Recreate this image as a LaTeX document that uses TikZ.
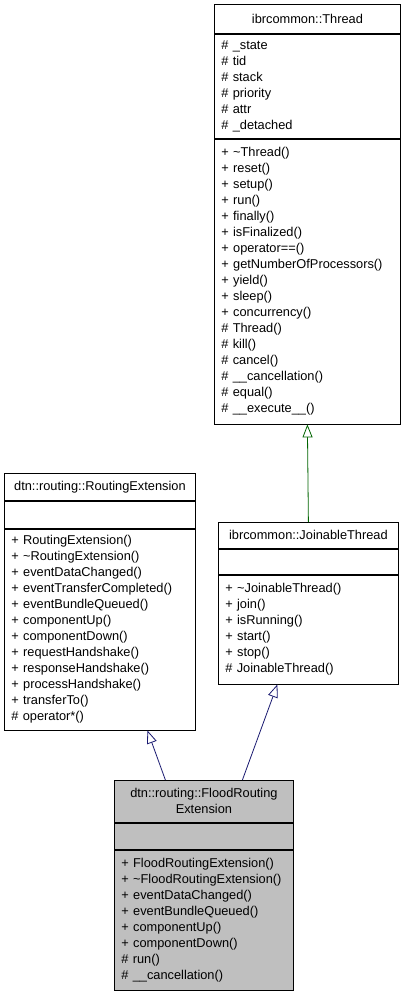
\documentclass[tikz,border=0pt]{standalone}
\usepackage{fontspec}
\setmainfont{Liberation Sans}
\usetikzlibrary{arrows.meta,positioning}
\definecolor{inheritblue}{HTML}{191970}
\definecolor{inheritgreen}{HTML}{006400}
\definecolor{focusgray}{HTML}{BFBFBF}
\newcommand{\umlfont}{\fontsize{12.8}{16}\selectfont}
\newcommand{\tl}{\textasciitilde}

\begin{document}
\begin{tikzpicture}[x=1pt,y=-1pt,
  every node/.style={draw,line width=0.8pt,fill=white,inner xsep=7pt,inner ysep=0pt,font=\umlfont},
  classname/.style={align=center,anchor=north west},
  members/.style={align=left},
  inherit/.style={line width=0.8pt,-{Triangle[open,length=13pt,width=10pt,fill=white]}}]
\useasboundingbox (0,0) rectangle (405,995);
\node[classname,minimum width=186,text width=172,minimum height=29] (threadname) at (214,4) {ibrcommon::Thread};
\node[members,below=0pt of threadname,minimum width=186,text width=172,minimum height=104] (threadattrs) {\# \_state\\\# tid\\\# stack\\\# priority\\\# attr\\\# \_detached};
\node[members,below=0pt of threadattrs,minimum width=186,text width=172,minimum height=285] (threadops) {+ \tl Thread()\\+ reset()\\+ setup()\\+ run()\\+ finally()\\+ isFinalized()\\+ operator==()\\+ getNumberOfProcessors()\\+ yield()\\+ sleep()\\+ concurrency()\\\# Thread()\\\# kill()\\\# cancel()\\\# \_\_cancellation()\\\# equal()\\\# \_\_execute\_\_()};
\node[classname,minimum width=191,text width=177,minimum height=27] (routingname) at (4,473) {dtn::routing::RoutingExtension};
\node[members,below=0pt of routingname,minimum width=191,text width=177,minimum height=27] (routingattrs) {};
\node[members,below=0pt of routingattrs,minimum width=191,text width=177,minimum height=201] (routingops) {+ RoutingExtension()\\+ \tl RoutingExtension()\\+ eventDataChanged()\\+ eventTransferCompleted()\\+ eventBundleQueued()\\+ componentUp()\\+ componentDown()\\+ requestHandshake()\\+ responseHandshake()\\+ processHandshake()\\+ transferTo()\\\# operator*()};
\node[classname,minimum width=180,text width=166,minimum height=26] (joinablename) at (218,522) {ibrcommon::JoinableThread};
\node[members,below=0pt of joinablename,minimum width=180,text width=166,minimum height=25] (joinableattrs) {};
\node[members,below=0pt of joinableattrs,minimum width=180,text width=166,minimum height=109] (joinableops) {+ \tl JoinableThread()\\+ join()\\+ isRunning()\\+ start()\\+ stop()\\\# JoinableThread()};
\node[classname,fill=focusgray,minimum width=179,text width=165,minimum height=42] (floodname) at (114,780) {dtn::routing::FloodRouting\\Extension};
\node[members,fill=focusgray,below=0pt of floodname,minimum width=179,text width=165,minimum height=26] (floodattrs) {};
\node[members,fill=focusgray,below=0pt of floodattrs,minimum width=179,text width=165,minimum height=140] (floodops) {+ FloodRoutingExtension()\\+ \tl FloodRoutingExtension()\\+ eventDataChanged()\\+ eventBundleQueued()\\+ componentUp()\\+ componentDown()\\\# run()\\\# \_\_cancellation()};
\draw[inherit,inheritgreen] (joinablename.north) -- (threadops.south);
\draw[inherit,inheritblue] ([xshift=-38.5pt]floodname.north) -- ([xshift=47.5pt]routingops.south);
\draw[inherit,inheritblue] ([xshift=38.5pt]floodname.north) -- ([xshift=-31pt]joinableops.south);
\end{tikzpicture}
\end{document}
